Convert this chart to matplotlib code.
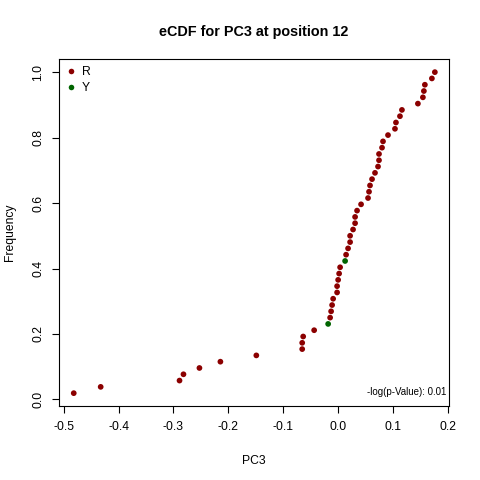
import numpy as np
import matplotlib
matplotlib.use("Agg")
import matplotlib.pyplot as plt
from matplotlib.lines import Line2D

plt.rcParams['font.family'] = ['Liberation Sans', 'DejaVu Sans']
plt.rcParams['axes.unicode_minus'] = False

# PC3 values (sorted) and their group labels
pc3 = [-0.4818, -0.4327, -0.2890, -0.2818, -0.2527, -0.2145, -0.1490, -0.0654,
       -0.0654, -0.0636, -0.0436, -0.0181, -0.0145, -0.0127, -0.0109, -0.0090,
       -0.0018, -0.0018, 0.0001, 0.0019, 0.0037, 0.0128, 0.0146, 0.0182,
       0.0219, 0.0219, 0.0273, 0.0310, 0.0310, 0.0346, 0.0419, 0.0546,
       0.0564, 0.0582, 0.0619, 0.0673, 0.0728, 0.0746, 0.0746, 0.0801,
       0.0819, 0.0910, 0.1037, 0.1055, 0.1128, 0.1164, 0.1455, 0.1546,
       0.1564, 0.1582, 0.1710, 0.1764]
groups = ['R'] * len(pc3)
groups[11] = 'Y'
groups[21] = 'Y'

group_names = ['R', 'Y']
group_colors = {'R': '#8B0000', 'Y': '#006400'}
x_ticks = [-0.5, -0.4, -0.3, -0.2, -0.1, 0.0, 0.1, 0.2]
x_ticklabels = ['-0.5', '-0.4', '-0.3', '-0.2', '-0.1', '0.0', '0.1', '0.2']
y_ticks = [0.0, 0.2, 0.4, 0.6, 0.8, 1.0]
y_ticklabels = ['0.0', '0.2', '0.4', '0.6', '0.8', '1.0']
title = 'eCDF for PC3 at position 12'
pvalue_text = '-log(p-Value): 0.01'

x = np.array(pc3)
n = len(x)
freq = np.arange(1, n + 1) / n
cols = [group_colors[g] for g in groups]

fig = plt.figure(figsize=(4.8, 4.8), dpi=100)
ax = fig.add_axes([59.3 / 480, (480 - 406) / 480, (449.3 - 59.3) / 480, (406 - 59.3) / 480])

ax.scatter(x, freq, c=cols, s=17, linewidths=0, zorder=3)

xr = x.max() - x.min()
ax.set_xlim(x.min() - 0.04 * xr, x.max() + 0.04 * xr)
yr = freq.max() - freq.min()
ax.set_ylim(freq.min() - 0.04 * yr, freq.max() + 0.04 * yr)

ax.set_xticks(x_ticks)
ax.set_xticklabels(x_ticklabels)
ax.set_yticks(y_ticks)
ax.set_yticklabels(y_ticklabels, rotation=90, va='center')
ax.tick_params(axis='both', length=5, width=0.8, labelsize=8.7, pad=6, color='black')
ax.tick_params(axis='y', pad=6)
for s in ax.spines.values():
    s.set_linewidth(0.8)

ax.set_xlabel('PC3', fontsize=8.7, labelpad=16)
ax.set_ylabel('Frequency', fontsize=8.7, labelpad=11.5)
fig.text(254 / 480, 1 - 31.7 / 480, title, ha='center', va='center',
         fontsize=10.4, fontweight='bold')

ax.text(0.992, 0.04, pvalue_text, transform=ax.transAxes, ha='right', va='center',
        fontsize=7.0)

handles = [Line2D([], [], linestyle='none', marker='o', markersize=4.0,
                  markerfacecolor=group_colors[g], markeredgewidth=0) for g in group_names]
leg = ax.legend(handles, group_names, loc='upper left', frameon=False,
                fontsize=8.7, handlelength=0.8, handletextpad=0.5,
                borderaxespad=0.15, labelspacing=0.35, borderpad=0.4)
for t in leg.get_texts():
    t.set_color('black')

fig.savefig('out.png', dpi=100)
